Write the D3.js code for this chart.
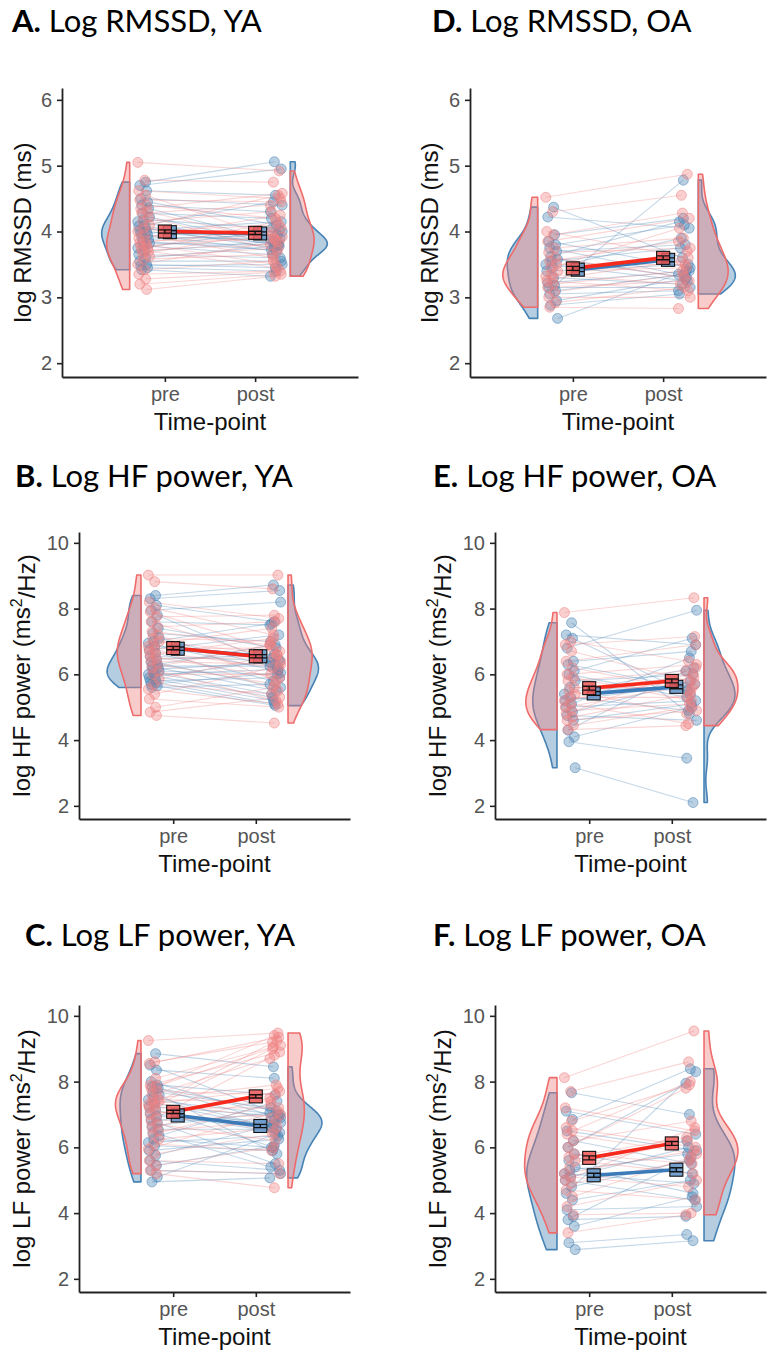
<!DOCTYPE html>
<html><head><meta charset="utf-8">
<script src="https://cdn.jsdelivr.net/npm/d3@7"></script>
<style>body{margin:0;background:#fff}</style>
</head><body>
<svg id="c" width="767" height="1353"></svg>
<script>
// ---------- categories / ticks ----------
const timepoints = ["pre", "post"];
const ticksRMSSD = [2, 3, 4, 5, 6];
const ticksPower = [2, 4, 6, 8, 10];

// ---------- A. Log RMSSD, YA ----------
const A_redPre  = [5.05,4.78,4.62,4.55,4.48,4.40,4.35,4.30,4.28,4.22,4.15,4.10,4.05,4.00,3.95,3.90,3.86,3.83,3.80,3.78,3.75,3.72,3.70,3.66,3.62,3.58,3.50,3.42,3.35,3.28,3.20,3.12];
const A_redPost = [4.92,4.75,4.50,3.90,4.45,4.20,4.58,3.85,4.40,3.70,4.30,4.55,3.95,4.10,3.60,4.25,3.88,4.05,3.50,3.92,4.15,3.80,3.45,4.00,3.75,3.65,3.85,3.55,3.40,3.38,3.35,3.32];
const A_bluePre = [4.75,4.70,4.62,4.50,4.45,4.40,4.35,4.28,4.22,4.18,4.15,4.10,4.08,4.05,4.02,4.00,3.98,3.95,3.92,3.88,3.85,3.82,3.78,3.75,3.70,3.65,3.60,3.55,3.50,3.48,3.45,3.42];
const A_bluePost= [5.06,4.95,4.55,4.40,4.10,4.30,3.85,4.20,3.80,4.05,3.78,4.45,3.90,3.75,4.15,3.82,4.00,3.70,3.88,3.95,3.72,3.80,3.65,4.02,3.85,3.60,3.78,3.55,3.45,3.50,3.40,3.32];
const A_redMean = [4.00, 3.98], A_blueMean = [3.99, 3.97];
const A_redSE = [0.025, 0.025], A_blueSE = [0.025, 0.025];

// ---------- D. Log RMSSD, OA ----------
const D_redPre  = [4.52,4.30,4.00,3.95,3.85,3.75,3.68,3.60,3.55,3.50,3.45,3.40,3.35,3.32,3.28,3.25,3.20,3.15,3.08,3.00,2.92,2.85];
const D_redPost = [4.87,4.55,3.60,4.28,4.20,3.90,3.75,3.30,3.85,3.50,4.05,3.45,3.20,3.70,3.55,3.10,3.40,3.25,3.35,3.00,3.15,2.83];
const D_bluePre = [4.37,4.22,3.95,3.85,3.80,3.75,3.70,3.62,3.58,3.55,3.50,3.45,3.40,3.30,3.22,3.18,3.15,3.10,3.05,2.95,2.88,2.68];
const D_bluePost= [3.60,4.05,4.20,3.45,4.10,3.35,3.80,4.15,3.30,3.75,3.25,3.90,3.50,3.20,3.40,4.78,3.15,3.35,3.10,3.28,3.05,3.40];
const D_redMean = [3.44, 3.60], D_blueMean = [3.42, 3.57];
const D_redSE = [0.03, 0.03], D_blueSE = [0.03, 0.03];

// ---------- B. Log HF power, YA ----------
const B_redPre  = [9.02,8.82,8.20,8.00,7.90,7.75,7.60,7.45,7.30,7.20,7.10,7.00,6.92,6.85,6.78,6.70,6.62,6.55,6.48,6.40,6.30,6.20,6.10,6.00,5.85,5.70,5.55,5.40,5.25,5.00,4.85,4.75];
const B_redPost = [9.02,8.60,7.70,7.20,6.70,7.80,6.40,7.60,6.90,5.80,7.00,6.60,7.40,5.50,6.80,6.20,7.10,5.90,6.50,6.30,5.70,6.90,5.20,6.00,6.60,5.40,5.10,6.20,5.00,5.60,5.30,4.52];
const B_bluePre = [8.40,8.30,8.10,7.95,7.80,7.60,7.40,7.25,7.10,7.00,6.95,6.85,6.75,6.65,6.55,6.45,6.38,6.30,6.25,6.20,6.15,6.10,6.05,6.00,5.95,5.90,5.85,5.80,5.75,5.70,5.65,5.60];
const B_bluePost= [8.72,8.55,7.60,8.20,6.30,7.50,6.80,7.00,6.20,7.55,6.10,6.50,7.20,5.80,6.40,6.60,5.60,6.90,6.25,5.50,6.35,6.00,5.40,6.15,5.30,6.45,5.20,5.90,5.10,6.05,5.05,5.70];
const B_redMean = [6.80, 6.55], B_blueMean = [6.78, 6.55];
const B_redSE = [0.05, 0.05], B_blueSE = [0.05, 0.05];

// ---------- E. Log HF power, OA ----------
const E_redPre  = [7.88,7.00,6.90,6.70,6.40,6.20,6.00,5.90,5.80,5.60,5.50,5.40,5.30,5.20,5.10,5.00,4.90,4.80,4.70,4.60,4.45,4.32];
const E_redPost = [8.33,6.40,7.15,5.80,6.90,5.50,6.30,5.20,6.10,5.60,4.80,6.00,5.30,5.90,4.50,5.70,5.10,6.20,5.40,4.90,5.00,4.44];
const E_bluePre = [7.57,7.20,7.10,6.80,6.40,6.30,6.10,6.00,5.80,5.60,5.40,5.30,5.20,5.10,5.00,4.85,4.75,4.60,4.30,4.10,3.95,3.16];
const E_bluePost= [4.80,6.90,5.40,7.95,6.70,5.60,7.10,5.30,6.00,5.50,6.20,4.90,5.70,6.50,5.20,5.80,4.60,5.10,6.10,5.00,3.45,2.10];
const E_redMean = [5.58, 5.80], E_blueMean = [5.42, 5.62];
const E_redSE = [0.06, 0.06], E_blueSE = [0.06, 0.06];

// ---------- C. Log LF power, YA ----------
const C_redPre  = [9.25,8.60,8.55,8.10,7.90,7.85,7.80,7.70,7.60,7.50,7.45,7.40,7.35,7.30,7.25,7.20,7.10,7.00,6.90,6.80,6.70,6.60,6.50,6.40,6.25,6.10,5.95,5.80,5.60,5.45,5.30,5.20];
const C_redPost = [9.48,9.20,9.35,9.05,8.90,9.40,9.10,7.60,8.70,7.90,7.40,9.25,6.90,7.80,9.00,7.20,6.50,7.70,8.80,7.00,6.20,7.50,6.80,7.30,6.60,5.90,7.10,6.40,5.50,6.00,5.20,4.77];
const C_bluePre = [8.85,8.50,8.35,8.00,7.90,7.85,7.80,7.70,7.60,7.55,7.45,7.35,7.25,7.15,7.05,6.95,6.85,6.75,6.65,6.55,6.45,6.35,6.25,6.15,6.05,5.90,5.75,5.60,5.45,5.30,5.10,4.95];
const C_bluePost= [8.45,7.00,8.10,6.90,7.60,6.80,7.10,7.20,5.80,6.60,7.00,6.60,6.95,6.00,6.45,6.80,6.75,5.50,7.05,6.55,5.40,7.40,6.00,6.35,5.90,6.25,6.70,5.30,6.05,5.20,6.40,5.07];
const C_redMean = [7.08, 7.55], C_blueMean = [6.97, 6.65];
const C_redSE = [0.05, 0.05], C_blueSE = [0.05, 0.05];

// ---------- F. Log LF power, OA ----------
const F_redPre  = [8.12,7.70,7.20,6.80,6.60,6.50,6.40,6.20,6.00,5.80,5.70,5.60,5.40,5.20,5.10,5.00,4.90,4.70,4.50,4.20,3.95,3.40];
const F_redPost = [9.54,8.60,6.50,7.90,6.00,8.00,5.80,6.80,7.80,5.50,6.30,5.20,6.20,5.90,4.80,6.60,5.60,4.40,5.70,5.00,4.00,3.95];
const F_bluePre = [7.66,7.10,6.85,6.50,6.20,6.00,5.80,5.60,5.40,5.30,5.20,5.10,5.00,4.80,4.60,4.40,4.10,3.90,3.80,3.60,3.10,2.89];
const F_bluePost= [7.00,6.40,8.39,5.90,5.50,7.95,5.20,6.20,4.60,5.80,4.90,6.00,4.40,5.60,8.30,5.00,4.20,5.70,3.90,4.50,3.35,3.16];
const F_redMean = [5.68, 6.12], F_blueMean = [5.15, 5.32];
const F_redSE = [0.06, 0.06], F_blueSE = [0.06, 0.06];

// ---------- panel definitions (text + layout) ----------
const panels = [
  {lab:"A.", title:" Log RMSSD, YA", ylab:"rmssd", ticks:ticksRMSSD, yDom:[1.79,6.18],
   red:[A_redPre,A_redPost], blue:[A_bluePre,A_bluePost], rm:A_redMean, bm:A_blueMean, rs:A_redSE, bs:A_blueSE,
   L:62, R:358, T:88, B:377, tx:12, ty:32, yx:23},
  {lab:"D.", title:" Log RMSSD, OA", ylab:"rmssd", ticks:ticksRMSSD, yDom:[1.79,6.18],
   red:[D_redPre,D_redPost], blue:[D_bluePre,D_bluePost], rm:D_redMean, bm:D_blueMean, rs:D_redSE, bs:D_blueSE,
   L:470, R:766, T:88, B:377, tx:432, ty:32, yx:430},
  {lab:"B.", title:" Log HF power, YA", ylab:"HF", ticks:ticksPower, yDom:[1.60,10.33],
   red:[B_redPre,B_redPost], blue:[B_bluePre,B_bluePost], rm:B_redMean, bm:B_blueMean, rs:B_redSE, bs:B_blueSE,
   L:79, R:350, T:532, B:819, tx:15, ty:487, yx:22},
  {lab:"E.", title:" Log HF power, OA", ylab:"HF", ticks:ticksPower, yDom:[1.60,10.33],
   red:[E_redPre,E_redPost], blue:[E_bluePre,E_bluePost], rm:E_redMean, bm:E_blueMean, rs:E_redSE, bs:E_blueSE,
   L:495, R:766, T:532, B:819, tx:433, ty:487, yx:438},
  {lab:"C.", title:" Log LF power, YA", ylab:"LF", ticks:ticksPower, yDom:[1.60,10.33],
   red:[C_redPre,C_redPost], blue:[C_bluePre,C_bluePost], rm:C_redMean, bm:C_blueMean, rs:C_redSE, bs:C_blueSE,
   L:79, R:350, T:1005, B:1292, tx:25, ty:946, yx:22},
  {lab:"F.", title:" Log LF power, OA", ylab:"LF", ticks:ticksPower, yDom:[1.60,10.33],
   red:[F_redPre,F_redPost], blue:[F_bluePre,F_bluePost], rm:F_redMean, bm:F_blueMean, rs:F_redSE, bs:F_blueSE,
   L:495, R:766, T:1005, B:1292, tx:433, ty:946, yx:438}
];

const RED = "#f08080", REDLINE = "#ee6b6b", BLUE = "#4682b4";
const MEANRED = "#f62a1c", MEANBLUE = "#3a7bb8";
const TICKFONT = "'Liberation Sans', Arial, Helvetica, sans-serif";
const svg = d3.select("#c");

function kde(vals, n) {
  const s = vals.slice().sort(d3.ascending);
  const sd = d3.deviation(s);
  const iqr = d3.quantile(s, 0.75) - d3.quantile(s, 0.25);
  const bw = 0.9 * Math.min(sd, iqr / 1.34) * Math.pow(s.length, -0.2);
  const lo = s[0], hi = s[s.length - 1];
  const out = [];
  for (let k = 0; k <= n; k++) {
    const y = lo + (hi - lo) * k / n;
    let d = 0;
    for (const v of s) { const u = (y - v) / bw; d += Math.exp(-0.5 * u * u); }
    out.push([y, d / (s.length * bw * Math.sqrt(2 * Math.PI))]);
  }
  return out;
}
const jit = i => (((i * 7) % 13) / 12 - 0.5) * 0.13;

panels.forEach(p => {
  const g = svg.append("g");
  const x = d3.scaleLinear().domain([-0.14, 3.14]).range([p.L, p.R]);
  const y = d3.scaleLinear().domain(p.yDom).range([p.B, p.T]);

  // half violins
  const dens = {
    bluePre: kde(p.blue[0], 200), redPre: kde(p.red[0], 200),
    bluePost: kde(p.blue[1], 200), redPost: kde(p.red[1], 200)
  };
  const maxD = d3.max(Object.values(dens), a => d3.max(a, d => d[1]));
  const wScale = 0.41 / maxD;
  const violin = (den, base, side, col, stroke) => {
    const pts = [[base, den[0][0]]].concat(den.map(d => [base + side * d[1] * wScale, d[0]]), [[base, den[den.length - 1][0]]]);
    g.append("path")
      .attr("d", d3.line().x(d => x(d[0])).y(d => y(d[1]))(pts) + "Z")
      .attr("fill", col).attr("fill-opacity", 0.4)
      .attr("stroke", stroke).attr("stroke-width", 1.6).attr("stroke-linejoin", "round");
  };
  violin(dens.bluePre, 0.61, -1, BLUE, BLUE);
  violin(dens.redPre, 0.61, -1, RED, REDLINE);
  violin(dens.bluePost, 2.39, 1, BLUE, BLUE);
  violin(dens.redPost, 2.39, 1, RED, REDLINE);

  // subject lines + points
  const groups = [{vals: p.blue, col: BLUE, off: 3}, {vals: p.red, col: RED, off: 0}];
  groups.forEach(gr => {
    gr.vals[0].forEach((v, i) => {
      const x0 = 1 - 0.235 + jit(i + gr.off), x1 = 2 + 0.235 + jit(i + gr.off + 5);
      g.append("line").attr("x1", x(x0)).attr("y1", y(v)).attr("x2", x(x1)).attr("y2", y(gr.vals[1][i]))
        .attr("stroke", gr.col).attr("stroke-opacity", 0.32).attr("stroke-width", 1.1);
    });
  });
  groups.forEach(gr => {
    [0, 1].forEach(t => {
      gr.vals[t].forEach((v, i) => {
        const xv = t === 0 ? 1 - 0.235 + jit(i + gr.off) : 2 + 0.235 + jit(i + gr.off + 5);
        g.append("circle").attr("cx", x(xv)).attr("cy", y(v)).attr("r", 5)
          .attr("fill", gr.col).attr("fill-opacity", 0.38)
          .attr("stroke", gr.col).attr("stroke-opacity", 0.5).attr("stroke-width", 1);
      });
    });
  });

  // mean lines
  const means = [{m: p.bm, s: p.bs, dx: 0.055, line: MEANBLUE, fill: "#5f93c8"},
                 {m: p.rm, s: p.rs, dx: 0, line: MEANRED, fill: "#ef5858"}];
  means.forEach(M => {
    g.append("line").attr("x1", x(1 + M.dx)).attr("y1", y(M.m[0])).attr("x2", x(2 + M.dx)).attr("y2", y(M.m[1]))
      .attr("stroke", M.line).attr("stroke-width", 3.6);
  });
  means.forEach(M => {
    [0, 1].forEach(t => {
      const cx = x(t + 1 + M.dx), cy = y(M.m[t]);
      g.append("rect").attr("x", cx - 6.5).attr("y", cy - 6.5).attr("width", 13).attr("height", 13)
        .attr("fill", M.fill).attr("fill-opacity", 0.85).attr("stroke", "#111").attr("stroke-width", 1.1);
      const y0 = y(M.m[t] - M.s[t]), y1 = y(M.m[t] + M.s[t]);
      g.append("path").attr("d", `M${cx-6.5},${y0}H${cx+6.5}M${cx},${y0}V${y1}M${cx-6.5},${y1}H${cx+6.5}`)
        .attr("stroke", "#111").attr("stroke-width", 1.4).attr("fill", "none");
    });
  });

  // axes
  const ya = g.append("g").attr("transform", `translate(${p.L},0)`)
    .call(d3.axisLeft(y).tickValues(p.ticks).tickFormat(d3.format("d")).tickSize(5).tickSizeOuter(0).tickPadding(5));
  const xa = g.append("g").attr("transform", `translate(0,${p.B})`)
    .call(d3.axisBottom(x).tickValues([1, 2]).tickFormat(d => timepoints[d - 1]).tickSize(5).tickSizeOuter(0).tickPadding(5));
  [ya, xa].forEach(a => {
    a.attr("font-family", null).attr("font-size", null);
    a.select(".domain").attr("stroke", "#222").attr("stroke-width", 1.8);
    a.selectAll(".tick line").attr("stroke", "#222").attr("stroke-width", 1.6);
    a.selectAll(".tick text").attr("fill", "#555").style("font-family", TICKFONT).style("font-size", "20px");
  });

  // axis titles
  g.append("text").attr("x", (p.L + p.R) / 2).attr("y", p.B + 53).attr("text-anchor", "middle")
    .style("font-family", TICKFONT).style("font-size", "24px").attr("fill", "#111").text("Time-point");
  const yt = g.append("text").attr("transform", `translate(${p.yx},${(p.T + p.B) / 2}) rotate(-90)`)
    .attr("text-anchor", "middle").attr("dy", "0.35em")
    .style("font-family", TICKFONT).style("font-size", "24px").attr("fill", "#111");
  if (p.ylab === "rmssd") {
    yt.text("log RMSSD (ms)");
  } else {
    yt.append("tspan").text(`log ${p.ylab} power (ms`);
    yt.append("tspan").attr("dy", "-0.55em").style("font-size", "16px").text("2");
    yt.append("tspan").attr("dy", "0.55em").text("/Hz)");
  }

  // panel title
  const tt = g.append("text").attr("x", p.tx).attr("y", p.ty)
    .style("font-family", "Lato, 'Open Sans', sans-serif").style("font-size", "31px").attr("fill", "#000");
  tt.append("tspan").style("font-weight", "bold").text(p.lab);
  tt.append("tspan").text(p.title);
});
</script>
</body></html>
